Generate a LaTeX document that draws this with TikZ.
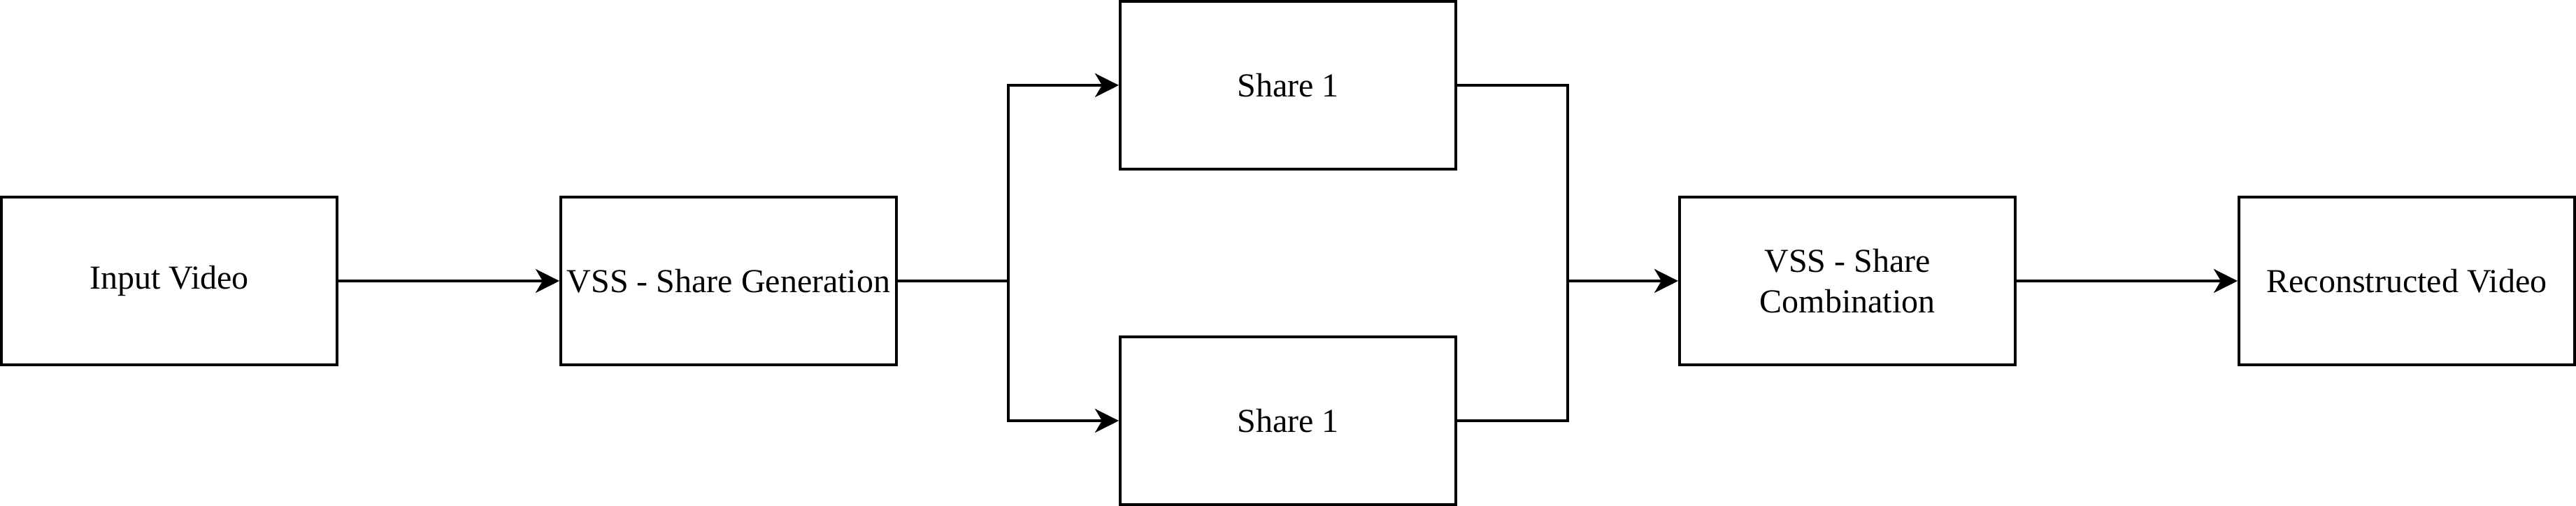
\documentclass[tikz,border=0pt]{standalone}
\usepackage{fontspec}
\setmainfont{Liberation Serif}
\usetikzlibrary{arrows.meta}
\begin{document}
\begin{tikzpicture}[x=1pt,y=-1pt,
  box/.style={draw, line width=1pt, minimum width=120pt, minimum height=60pt, inner sep=0pt, align=center, font=\fontsize{12pt}{14.4pt}\selectfont},
  wire/.style={line width=1pt},
  conn/.style={wire, -{Stealth[length=8.5pt,width=8.5pt,inset=2.5pt]}}]
\useasboundingbox (0,0) rectangle (921,181);
\node[box] (in) at (60.5,100.5) {Input Video};
\node[box] (gen) at (260.5,100.5) {VSS - Share Generation};
\node[box] (s1) at (460.5,30.5) {Share 1};
\node[box] (s2) at (460.5,150.5) {Share 1};
\node[box] (comb) at (660.5,100.5) {VSS - Share\\Combination};
\node[box] (rec) at (860.5,100.5) {Reconstructed Video};
\coordinate (j1) at (360.5,100.5);
\coordinate (j2) at (560.5,100.5);
\draw[conn] (in) -- (gen);
\draw[conn] (gen.east) -- (j1) |- (s1.west);
\draw[conn] (j1) |- (s2.west);
\draw[wire] (s1.east) -| (j2);
\draw[wire] (s2.east) -| (j2);
\draw[conn] (j2) -- (comb);
\draw[conn] (comb) -- (rec);
\end{tikzpicture}
\end{document}
